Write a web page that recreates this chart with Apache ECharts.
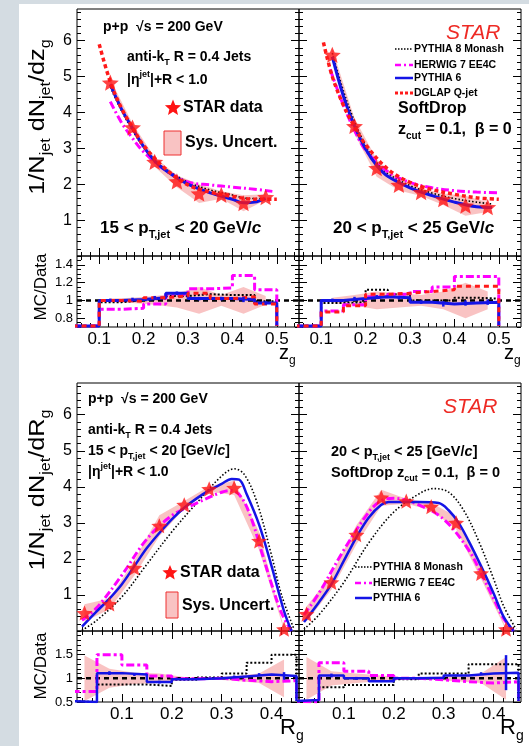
<!DOCTYPE html>
<html>
<head>
<meta charset="utf-8">
<title>STAR SoftDrop zg / Rg</title>
<script src="https://cdn.jsdelivr.net/npm/echarts@6.0.0/dist/echarts.min.js"></script>
<style>
  html, body { margin: 0; padding: 0; background: #d4dce2; }
  #paper { position: absolute; left: 19px; top: 4px; width: 510px; height: 742px; background: #ffffff; }
  #chart { position: absolute; left: 0; top: 0; width: 529px; height: 746px; }
</style>
</head>
<body>
<div id="paper"></div>
<div id="chart"></div>
<script>
var FF = '"Liberation Sans", Arial, Helvetica, sans-serif';

// bins
var zgEdges   = [0.10, 0.15, 0.20, 0.25, 0.30, 0.35, 0.40, 0.45, 0.50];
var zgCenters = [0.125, 0.175, 0.225, 0.275, 0.325, 0.375, 0.425, 0.475];
var rgEdges   = [0.00, 0.05, 0.10, 0.15, 0.20, 0.25, 0.30, 0.35, 0.40, 0.45];
var rgCenters = [0.025, 0.075, 0.125, 0.175, 0.225, 0.275, 0.325, 0.375, 0.425];

// STAR data + relative systematic uncertainty
var starZgLow  = [4.83, 3.58, 2.62, 2.08, 1.74, 1.70, 1.47, 1.64];
var sysZgLow   = [0.02, 0.03, 0.05, 0.08, 0.15, 0.06, 0.15, 0.05];
var starZgHigh = [5.60, 3.62, 2.45, 1.98, 1.78, 1.58, 1.40, 1.36];
var sysZgHigh  = [0.03, 0.06, 0.10, 0.08, 0.06, 0.10, 0.20, 0.10];
var starRgLow  = [0.50, 0.75, 1.75, 2.92, 3.50, 3.94, 3.97, 2.50, 0.05];
var sysRgLow   = [0.48, 0.20, 0.12, 0.10, 0.03, 0.02, 0.05, 0.10, 0.40];
var starRgHigh = [0.47, 1.35, 2.67, 3.70, 3.60, 3.45, 3.00, 1.60, 0.05];
var sysRgHigh  = [0.45, 0.15, 0.10, 0.06, 0.02, 0.03, 0.06, 0.10, 0.45];

// model curves, zg 15-20
var p6ZgLowX = [0.125, 0.15, 0.175, 0.2, 0.225, 0.25, 0.3, 0.35, 0.4, 0.425, 0.45, 0.475];
var p6ZgLowY = [4.78, 4.10, 3.56, 3.05, 2.65, 2.38, 2.00, 1.76, 1.58, 1.48, 1.50, 1.60];
var p8ZgLowY = [4.70, 4.05, 3.50, 3.02, 2.66, 2.42, 2.06, 1.84, 1.70, 1.62, 1.60, 1.60];
var hwZgLowX = [0.125, 0.15, 0.175, 0.2, 0.25, 0.3, 0.35, 0.4, 0.45, 0.49];
var hwZgLowY = [4.30, 3.72, 3.28, 2.90, 2.38, 2.06, 1.98, 1.92, 1.86, 1.80];
var dgZgLowX = [0.1, 0.125, 0.15, 0.175, 0.2, 0.25, 0.3, 0.35, 0.4, 0.45, 0.5];
var dgZgLowY = [5.90, 4.85, 4.12, 3.58, 3.08, 2.42, 1.98, 1.78, 1.66, 1.58, 1.58];
// model curves, zg 20-25
var p6ZgHighX = [0.125, 0.15, 0.175, 0.2, 0.225, 0.25, 0.3, 0.35, 0.4, 0.45, 0.485];
var p6ZgHighY = [5.55, 4.45, 3.62, 2.98, 2.52, 2.22, 1.90, 1.68, 1.50, 1.37, 1.35];
var p8ZgHighY = [5.65, 4.60, 3.75, 3.08, 2.60, 2.30, 1.96, 1.75, 1.60, 1.50, 1.45];
var hwZgHighX = [0.12, 0.15, 0.175, 0.2, 0.25, 0.3, 0.35, 0.4, 0.45, 0.5];
var hwZgHighY = [5.20, 4.20, 3.50, 2.95, 2.35, 2.05, 1.90, 1.82, 1.78, 1.76];
var dgZgHighX = [0.105, 0.125, 0.15, 0.175, 0.2, 0.25, 0.3, 0.35, 0.4, 0.45, 0.5];
var dgZgHighY = [5.95, 5.00, 4.20, 3.60, 3.10, 2.42, 2.05, 1.85, 1.72, 1.62, 1.58];
// model curves, Rg 15-20
var p6RgLowX = [0.02, 0.05, 0.075, 0.1, 0.125, 0.15, 0.175, 0.2, 0.225, 0.25, 0.275, 0.3, 0.32, 0.335, 0.35, 0.375, 0.4, 0.425, 0.44];
var p6RgLowY = [0.12, 0.55, 0.90, 1.30, 1.80, 2.30, 2.72, 3.10, 3.42, 3.68, 3.90, 4.08, 4.22, 4.20, 3.80, 2.95, 1.80, 0.55, 0.0];
var p8RgLowX = [0.02, 0.05, 0.1, 0.15, 0.2, 0.25, 0.3, 0.325, 0.345, 0.37, 0.4, 0.42, 0.445];
var p8RgLowY = [0.02, 0.30, 0.95, 1.85, 2.75, 3.55, 4.30, 4.50, 4.35, 3.60, 2.10, 1.00, 0.05];
var hwRgLowX = [0.02, 0.05, 0.1, 0.15, 0.2, 0.25, 0.3, 0.32, 0.34, 0.36, 0.38, 0.4, 0.42, 0.44];
var hwRgLowY = [0.30, 0.65, 1.55, 2.55, 3.20, 3.55, 3.85, 3.90, 3.70, 3.10, 2.20, 1.30, 0.50, 0.0];
// model curves, Rg 20-25
var p6RgHighX = [0.02, 0.05, 0.075, 0.1, 0.125, 0.15, 0.175, 0.19, 0.25, 0.29, 0.31, 0.33, 0.35, 0.375, 0.4, 0.42, 0.44];
var p6RgHighY = [0.25, 0.80, 1.30, 1.95, 2.60, 3.15, 3.50, 3.58, 3.58, 3.55, 3.35, 3.00, 2.50, 1.80, 1.05, 0.40, 0.0];
var p8RgHighX = [0.02, 0.05, 0.1, 0.15, 0.2, 0.25, 0.28, 0.31, 0.34, 0.37, 0.4, 0.42, 0.445];
var p8RgHighY = [0.05, 0.45, 1.35, 2.45, 3.30, 3.80, 3.95, 3.85, 3.35, 2.50, 1.45, 0.70, 0.05];
var hwRgHighX = [0.02, 0.05, 0.1, 0.15, 0.175, 0.2, 0.25, 0.3, 0.35, 0.375, 0.4, 0.42, 0.44];
var hwRgHighY = [0.45, 1.05, 2.25, 3.30, 3.62, 3.68, 3.50, 3.10, 2.25, 1.60, 0.90, 0.35, 0.0];

// MC/Data per bin
var rP6ZgLow  = [1.00, 1.01, 1.03, 1.08, 1.02, 1.02, 1.01, 0.97];
var rHwZgLow  = [0.90, 0.91, 0.96, 1.07, 1.13, 1.14, 1.28, 1.12];
var rDgZgLow  = [1.00, 0.99, 1.03, 1.05, 1.08, 1.02, 1.04, 0.96];
var rP8ZgLow  = [0.98, 1.00, 1.02, 1.05, 1.07, 1.06, 1.06, 0.99];
var eP6ZgLow  = [0.02, 0.02, 0.02, 0.02, 0.02, 0.02, 0.03, 0.02];
var rP6ZgHigh = [1.00, 1.02, 1.04, 1.03, 0.98, 0.96, 0.97, 0.98];
var rHwZgHigh = [0.88, 0.95, 1.04, 1.07, 1.10, 1.15, 1.27, 1.27];
var rDgZgHigh = [0.87, 0.94, 1.07, 1.08, 1.10, 1.12, 1.16, 1.16];
var rP8ZgHigh = [0.97, 0.98, 1.12, 1.07, 1.00, 1.00, 1.03, 1.02];
var eP6ZgHigh = [0.02, 0.02, 0.02, 0.02, 0.02, 0.03, 0.03, 0.03];
var rP6RgLow  = [0.50, 1.11, 1.08, 0.92, 0.98, 1.00, 1.04, 1.08, 1.05];
var rHwRgLow  = [0.72, 1.50, 1.28, 1.05, 0.99, 1.00, 0.96, 0.93, 0.95];
var rP8RgLow  = [0.50, 0.87, 0.87, 0.84, 0.97, 1.02, 1.10, 1.33, 1.50];
var eP6RgLow  = [0.00, 0.04, 0.03, 0.03, 0.02, 0.01, 0.02, 0.03, 0.08];
var rP6RgHigh = [0.54, 1.06, 1.00, 0.94, 1.00, 1.01, 1.06, 1.10, 1.12];
var rHwRgHigh = [0.50, 1.33, 1.15, 1.06, 1.00, 0.97, 0.93, 0.90, 0.93];
var rP8RgHigh = [0.50, 0.81, 0.86, 0.86, 0.98, 1.10, 1.10, 1.30, 1.30];
var eP6RgHigh = [0.00, 0.04, 0.03, 0.02, 0.01, 0.01, 0.02, 0.03, 0.37];

// tick labels
var zgLabels = [0.1, 0.2, 0.3, 0.4, 0.5];
var rgLabels = [0.1, 0.2, 0.3, 0.4];
var mainYLabels = [1, 2, 3, 4, 5, 6];
var ratioZgYLabels = [0.8, 1, 1.2, 1.4];
var ratioRgYLabels = [0.5, 1, 1.5];

var C_P8 = '#000000', C_HW = '#ff00ff', C_P6 = '#1414e6', C_DG = '#ff1a1a';
var C_STAR = '#ff1414', C_BAND = 'rgba(240,112,112,0.42)';
var STAR_PATH = 'path://M0,-10 L2.645,-3.64 L9.51,-3.09 L4.28,1.39 L5.88,8.09 L0,4.5 L-5.88,8.09 L-4.28,1.39 L-9.51,-3.09 L-2.645,-3.64 Z';

var ZG_X = [0.05, 0.55], RG_X = [0.01, 0.455];
var MAIN_Y = [0, 6.88], RZ_Y = [0.7, 1.5], RR_Y = [0.5, 2.0];

var grids = [
  [77, 9, 222, 247], [299, 9, 222, 247],
  [77, 256, 222, 71], [299, 256, 222, 71],
  [77, 383, 222, 248], [299, 383, 222, 248],
  [77, 631, 222, 71], [299, 631, 222, 71]
];

function ticks(a, b, step) {
  var out = [];
  for (var k = Math.ceil(a / step - 1e-6); k * step <= b + 1e-9; k++) out.push(+(k * step).toFixed(4));
  return out;
}

var xAxes = [], yAxes = [];
function addAxes(list, dim, g, range, major, minor, labels, lsz, lmargin) {
  var pos = dim === 'x' ? ['bottom', 'bottom', 'top', 'top'] : ['left', 'left', 'right', 'right'];
  for (var j = 0; j < 4; j++) {
    list.push({
      type: 'value', gridIndex: g, position: pos[j], min: range[0], max: range[1],
      axisLine: { show: false }, splitLine: { show: false }, silent: true,
      axisTick: { show: true, inside: true, length: j % 2 ? 4 : 8, customValues: j % 2 ? minor : major,
                  lineStyle: { color: '#000', width: 1 } },
      axisLabel: (j === 0 && labels) ? { show: true, customValues: labels, fontSize: lsz, fontFamily: FF,
                  color: '#000', margin: lmargin } : { show: false }
    });
  }
}
var zgMinor = ticks(ZG_X[0], ZG_X[1], 0.02), rgMinor = ticks(RG_X[0], RG_X[1], 0.02);
var mainMinor = ticks(0, 6.88, 0.2), rzMinor = ticks(0.7, 1.5, 0.05), rrMinor = ticks(0.5, 2.0, 0.1);
var mainMajor = [1, 2, 3, 4, 5, 6], rzMajor = [0.8, 1.0, 1.2, 1.4], rrMajor = [0.5, 1.0, 1.5];

// main zg
addAxes(xAxes, 'x', 0, ZG_X, zgLabels, zgMinor, null);
addAxes(yAxes, 'y', 0, MAIN_Y, mainMajor, mainMinor, mainYLabels, 16, 5);
addAxes(xAxes, 'x', 1, ZG_X, zgLabels, zgMinor, null);
addAxes(yAxes, 'y', 1, MAIN_Y, mainMajor, mainMinor, null);
// ratio zg
addAxes(xAxes, 'x', 2, ZG_X, zgLabels, zgMinor, zgLabels, 17, 4);
addAxes(yAxes, 'y', 2, RZ_Y, rzMajor, rzMinor, ratioZgYLabels, 13, 4);
addAxes(xAxes, 'x', 3, ZG_X, zgLabels, zgMinor, zgLabels, 17, 4);
addAxes(yAxes, 'y', 3, RZ_Y, rzMajor, rzMinor, null);
// main Rg
addAxes(xAxes, 'x', 4, RG_X, rgLabels, rgMinor, null);
addAxes(yAxes, 'y', 4, MAIN_Y, mainMajor, mainMinor, mainYLabels, 16, 5);
addAxes(xAxes, 'x', 5, RG_X, rgLabels, rgMinor, null);
addAxes(yAxes, 'y', 5, MAIN_Y, mainMajor, mainMinor, null);
// ratio Rg
addAxes(xAxes, 'x', 6, RG_X, rgLabels, rgMinor, rgLabels, 17, 4);
addAxes(yAxes, 'y', 6, RR_Y, rrMajor, rrMinor, ratioRgYLabels, 13, 4);
addAxes(xAxes, 'x', 7, RG_X, rgLabels, rgMinor, rgLabels, 17, 4);
addAxes(yAxes, 'y', 7, RR_Y, rrMajor, rrMinor, null);

function pts(xs, ys) { return xs.map(function (x, i) { return [x, ys[i]]; }); }

function curve(g, xs, ys, color, width, dash) {
  return { type: 'line', xAxisIndex: 4 * g, yAxisIndex: 4 * g, data: pts(xs, ys), smooth: 0.35,
    symbol: 'none', silent: true, z: 3, clip: true,
    lineStyle: { color: color, width: width, type: dash || 'solid' } };
}
function stars(g, xs, ys, size) {
  return { type: 'scatter', xAxisIndex: 4 * g, yAxisIndex: 4 * g, data: pts(xs, ys), symbol: STAR_PATH,
    symbolSize: size, symbolKeepAspect: true, silent: true, z: 5, itemStyle: { color: C_STAR } };
}
function band(g, xs, lo, hi) {
  var d = xs.map(function (x, i) { return [x, lo[i], hi[i]]; });
  return { type: 'custom', xAxisIndex: 4 * g, yAxisIndex: 4 * g, data: d, silent: true, z: 1, clip: true,
    renderItem: function (params, api) {
      if (params.dataIndex !== 0) return { type: 'group', children: [] };
      var up = [], dn = [];
      for (var i = 0; i < d.length; i++) {
        up.push(api.coord([d[i][0], d[i][2]]));
        dn.unshift(api.coord([d[i][0], d[i][1]]));
      }
      return { type: 'polygon', shape: { points: up.concat(dn) }, style: { fill: C_BAND } };
    } };
}
function mainBand(g, xs, vals, rel) {
  return band(g, xs, vals.map(function (v, i) { return v * (1 - rel[i]); }),
                     vals.map(function (v, i) { return v * (1 + rel[i]); }));
}
function ratioBand(g, xs, rel) {
  return band(g, xs, rel.map(function (r) { return 1 - r; }), rel.map(function (r) { return 1 + r; }));
}
function steps(g, edges, vals, floor, xmin, color, width, dash, z) {
  var d = [[xmin, floor]];
  for (var i = 0; i < vals.length; i++) d.push([edges[i], vals[i]]);
  d.push([edges[edges.length - 1], floor]);
  return { type: 'line', step: 'end', xAxisIndex: 4 * g, yAxisIndex: 4 * g, data: d, symbol: 'none',
    silent: true, z: z || 3, clip: true, lineStyle: { color: color, width: width, type: dash || 'solid' } };
}
function unity(g, range) {
  return { type: 'line', xAxisIndex: 4 * g, yAxisIndex: 4 * g, data: [[range[0], 1], [range[1], 1]],
    symbol: 'none', silent: true, z: 2, lineStyle: { color: '#000', width: 2.5, type: [5, 4] } };
}
function errBars(g, xs, ys, es, color) {
  var d = xs.map(function (x, i) { return [x, ys[i], es[i]]; });
  return { type: 'custom', xAxisIndex: 4 * g, yAxisIndex: 4 * g, data: d, silent: true, z: 4, clip: true,
    renderItem: function (params, api) {
      var r = d[params.dataIndex];
      if (!r[2]) return { type: 'group', children: [] };
      var a = api.coord([r[0], r[1] - r[2]]), b = api.coord([r[0], r[1] + r[2]]);
      return { type: 'line', shape: { x1: a[0], y1: a[1], x2: b[0], y2: b[1] }, style: { stroke: color, lineWidth: 2.5 } };
    } };
}

var DOT = [1.5, 2], DASHDOT = [8, 3, 2, 3], RDOT = [4, 3];
var series = [
  // zg 15-20
  mainBand(0, zgCenters, starZgLow, sysZgLow),
  curve(0, p6ZgLowX, p8ZgLowY, C_P8, 1.6, DOT),
  curve(0, hwZgLowX, hwZgLowY, C_HW, 3, DASHDOT),
  curve(0, p6ZgLowX, p6ZgLowY, C_P6, 3),
  curve(0, dgZgLowX, dgZgLowY, C_DG, 3.5, RDOT),
  stars(0, zgCenters, starZgLow, 17),
  // zg 20-25
  mainBand(1, zgCenters, starZgHigh, sysZgHigh),
  curve(1, p6ZgHighX, p8ZgHighY, C_P8, 1.6, DOT),
  curve(1, hwZgHighX, hwZgHighY, C_HW, 3, DASHDOT),
  curve(1, p6ZgHighX, p6ZgHighY, C_P6, 3),
  curve(1, dgZgHighX, dgZgHighY, C_DG, 3.5, RDOT),
  stars(1, zgCenters, starZgHigh, 17),
  // ratio zg 15-20
  ratioBand(2, zgCenters, sysZgLow),
  unity(2, ZG_X),
  steps(2, zgEdges, rP8ZgLow, 0.71, 0.04, C_P8, 2, [2, 2]),
  steps(2, zgEdges, rHwZgLow, 0.71, 0.04, C_HW, 3, [8, 3, 3, 3]),
  steps(2, zgEdges, rP6ZgLow, 0.71, 0.04, C_P6, 3),
  steps(2, zgEdges, rDgZgLow, 0.71, 0.04, C_DG, 3, [5, 4]),
  errBars(2, zgCenters, rP6ZgLow, eP6ZgLow, C_P6),
  // ratio zg 20-25
  ratioBand(3, zgCenters, sysZgHigh),
  unity(3, ZG_X),
  steps(3, zgEdges, rP8ZgHigh, 0.71, 0.04, C_P8, 2, [2, 2]),
  steps(3, zgEdges, rHwZgHigh, 0.71, 0.04, C_HW, 3, [8, 3, 3, 3]),
  steps(3, zgEdges, rP6ZgHigh, 0.71, 0.04, C_P6, 3),
  steps(3, zgEdges, rDgZgHigh, 0.71, 0.04, C_DG, 3, [5, 4]),
  errBars(3, zgCenters, rP6ZgHigh, eP6ZgHigh, C_P6),
  // Rg 15-20
  mainBand(4, rgCenters, starRgLow, sysRgLow),
  curve(4, p8RgLowX, p8RgLowY, C_P8, 1.6, DOT),
  curve(4, hwRgLowX, hwRgLowY, C_HW, 3, DASHDOT),
  curve(4, p6RgLowX, p6RgLowY, C_P6, 2.5),
  stars(4, rgCenters, starRgLow, 16),
  // Rg 20-25
  mainBand(5, rgCenters, starRgHigh, sysRgHigh),
  curve(5, p8RgHighX, p8RgHighY, C_P8, 1.6, DOT),
  curve(5, hwRgHighX, hwRgHighY, C_HW, 3, DASHDOT),
  curve(5, p6RgHighX, p6RgHighY, C_P6, 2.5),
  stars(5, rgCenters, starRgHigh, 16),
  // ratio Rg 15-20
  ratioBand(6, rgCenters, sysRgLow),
  unity(6, RG_X),
  steps(6, rgEdges, rP8RgLow, 0.52, -0.05, C_P8, 2, [2, 2]),
  steps(6, rgEdges, rHwRgLow, 0.52, -0.05, C_HW, 3, [8, 3, 3, 3]),
  steps(6, rgEdges, rP6RgLow, 0.52, -0.05, C_P6, 2.5),
  errBars(6, rgCenters, rP6RgLow, eP6RgLow, C_P6),
  // ratio Rg 20-25
  ratioBand(7, rgCenters, sysRgHigh),
  unity(7, RG_X),
  steps(7, rgEdges, rP8RgHigh, 0.52, -0.05, C_P8, 2, [2, 2]),
  steps(7, rgEdges, rHwRgHigh, 0.52, -0.05, C_HW, 3, [8, 3, 3, 3]),
  steps(7, rgEdges, rP6RgHigh, 0.52, -0.05, C_P6, 2.5),
  errBars(7, rgCenters, rP6RgHigh, eP6RgHigh, C_P6)
];

// ---- text
function R(sz, bold) {
  var w = bold ? 'bold' : 'normal', s = Math.round(sz * 0.62);
  return {
    m: { fontSize: sz, fontFamily: FF, fontWeight: w },
    i: { fontSize: sz, fontFamily: FF, fontWeight: w, fontStyle: 'italic' },
    d: { fontSize: s, fontFamily: FF, fontWeight: w, padding: [Math.round(sz * 0.75), 0, 0, 0] },
    u: { fontSize: s, fontFamily: FF, fontWeight: w, padding: [0, 0, Math.round(sz * 0.7), 0] }
  };
}
function txt(x, y, text, sz, o) {
  o = o || {};
  var bold = o.bold !== false;
  return { type: 'text', x: x, y: y, z: 100, rotation: o.rot || 0, scaleX: o.sx || 1, silent: true,
    style: { text: text, fill: o.color || '#000', fontSize: sz, fontFamily: FF,
      fontWeight: bold ? 'bold' : 'normal', fontStyle: o.italic ? 'italic' : 'normal',
      align: o.align || 'left', verticalAlign: 'middle', rich: R(sz, bold) } };
}
function legLine(x1, x2, y, color, width, dash) {
  return { type: 'line', z: 100, silent: true, shape: { x1: x1, y1: y, x2: x2, y2: y },
    style: { stroke: color, lineWidth: width, lineDash: dash || null } };
}
function legStar(cx, cy, r) {
  var p = [];
  for (var k = 0; k < 10; k++) {
    var a = -Math.PI / 2 + k * Math.PI / 5, rr = k % 2 ? r * 0.45 : r;
    p.push([cx + rr * Math.cos(a), cy + rr * Math.sin(a)]);
  }
  return { type: 'polygon', z: 100, silent: true, shape: { points: p }, style: { fill: C_STAR } };
}
function legBox(x, y, w, h) {
  return { type: 'rect', z: 100, silent: true, shape: { x: x, y: y, width: w, height: h },
    style: { fill: 'rgba(240,112,112,0.42)', stroke: '#ee3030', lineWidth: 1 } };
}

var graphics = [
  // top-left annotations
  txt(103, 27, 'p+p  √s = 200 GeV', 14),
  txt(127, 57, '{m|anti-k}{d|T}{m| R = 0.4 Jets}', 14),
  txt(127, 80, '{m||η}{u|jet}{m||+R < 1.0}', 14),
  legStar(173, 108, 8.5),
  txt(183, 108, 'STAR data', 16),
  legBox(164, 131, 17, 24),
  txt(185, 143, 'Sys. Uncert.', 16),
  txt(100, 228, '{m|15 < p}{d|T,jet}{m| < 20 GeV/}{i|c}', 17),
  // top-right annotations
  txt(446, 33, 'STAR', 21, { bold: false, italic: true, color: '#ee2a24' }),
  legLine(395, 413, 49, C_P8, 1.5, [1.5, 1.5]),
  txt(414, 49, 'PYTHIA 8 Monash', 10.5),
  legLine(395, 413, 65, C_HW, 2.5, [6, 3, 2, 3]),
  txt(414, 65, 'HERWIG 7 EE4C', 10.5),
  legLine(395, 413, 78, C_P6, 2.5),
  txt(414, 78, 'PYTHIA 6', 10.5),
  legLine(395, 413, 93, C_DG, 3, [3, 2]),
  txt(414, 93, 'DGLAP Q-jet', 10.5),
  txt(398, 109, 'SoftDrop', 16),
  txt(398, 130, '{m|z}{d|cut}{m| = 0.1,  β = 0}', 16),
  txt(333, 228, '{m|20 < p}{d|T,jet}{m| < 25 GeV/}{i|c}', 17),
  // bottom-left annotations
  txt(88, 399, 'p+p  √s = 200 GeV', 14),
  txt(88, 430, '{m|anti-k}{d|T}{m| R = 0.4 Jets}', 14),
  txt(88, 451, '{m|15 < p}{d|T,jet}{m| < 20 [GeV/}{i|c}{m|]}', 14),
  txt(88, 472, '{m||η}{u|jet}{m||+R < 1.0}', 14),
  legStar(170, 573, 8),
  txt(180, 573, 'STAR data', 16),
  legBox(166, 592, 12, 26),
  txt(182, 606, 'Sys. Uncert.', 16),
  // bottom-right annotations
  txt(443, 407, 'STAR', 21, { bold: false, italic: true, color: '#ee2a24' }),
  txt(331, 452, '{m|20 < p}{d|T,jet}{m| < 25 [GeV/}{i|c}{m|]}', 14.5),
  txt(331, 473, '{m|SoftDrop z}{d|cut}{m| = 0.1,  β = 0}', 14.5),
  legLine(355, 372, 567, C_P8, 1.5, [1.5, 1.5]),
  txt(373, 567, 'PYTHIA 8 Monash', 10.5),
  legLine(355, 372, 583, C_HW, 2.5, [6, 3, 2, 3]),
  txt(373, 583, 'HERWIG 7 EE4C', 10.5),
  legLine(355, 372, 598, C_P6, 2.5),
  txt(373, 598, 'PYTHIA 6', 10.5),
  // axis titles
  txt(38, 117, '{m|1/N}{d|jet}{m| dN}{d|jet}{m|/dz}{d|g}', 22, { bold: false, rot: Math.PI / 2, align: 'center', sx: 1.15 }),
  txt(41, 287, 'MC/Data', 17, { bold: false, rot: Math.PI / 2, align: 'center' }),
  txt(279, 353, '{m|z}{d|g}', 20, { bold: false }),
  txt(504, 353, '{m|z}{d|g}', 20, { bold: false }),
  txt(38, 490, '{m|1/N}{d|jet}{m| dN}{d|jet}{m|/dR}{d|g}', 22, { bold: false, rot: Math.PI / 2, align: 'center', sx: 1.15 }),
  txt(41, 666, 'MC/Data', 17, { bold: false, rot: Math.PI / 2, align: 'center' }),
  txt(280, 728, '{m|R}{d|g}', 22, { bold: false }),
  txt(500, 728, '{m|R}{d|g}', 22, { bold: false })
];

var chart = echarts.init(document.getElementById('chart'), null, { renderer: 'canvas' });
chart.setOption({
  animation: false,
  backgroundColor: 'transparent',
  grid: grids.map(function (r) {
    return { left: r[0], top: r[1], width: r[2], height: r[3], show: true, borderColor: '#000',
             borderWidth: 1, backgroundColor: 'transparent', containLabel: false, outerBoundsMode: 'none' };
  }),
  xAxis: xAxes,
  yAxis: yAxes,
  series: series,
  graphic: { elements: graphics }
});
</script>
</body>
</html>
